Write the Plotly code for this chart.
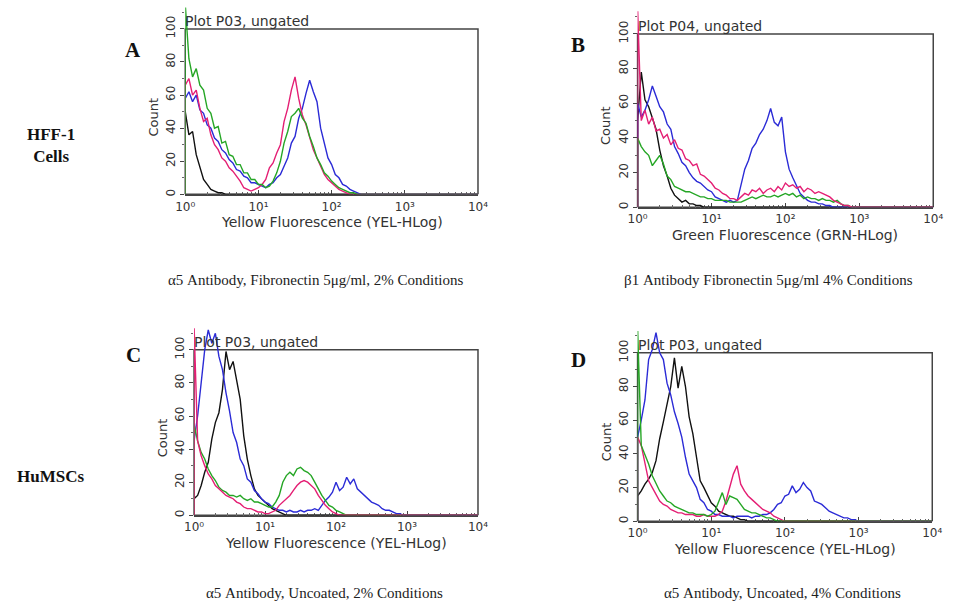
import plotly.graph_objects as go

# ---------------- data ----------------
# histogram channels, log10 of fluorescence (20 channels per decade)
CHANNEL_LOG10 = [0.00, 0.05, 0.10, 0.15, 0.20, 0.25, 0.30, 0.35, 0.40, 0.45,
                 0.50, 0.55, 0.60, 0.65, 0.70, 0.75, 0.80, 0.85, 0.90, 0.95,
                 1.00, 1.05, 1.10, 1.15, 1.20, 1.25, 1.30, 1.35, 1.40, 1.45,
                 1.50, 1.55, 1.60, 1.65, 1.70, 1.75, 1.80, 1.85, 1.90, 1.95,
                 2.00, 2.05, 2.10, 2.15, 2.20, 2.25, 2.30, 2.35, 2.40, 2.45,
                 2.50, 2.55, 2.60, 2.65, 2.70, 2.75, 2.80, 2.85, 2.90, 2.95,
                 3.00, 3.05, 3.10, 3.15, 3.20, 3.25, 3.30, 3.35, 3.40, 3.45,
                 3.50, 3.55, 3.60, 3.65, 3.70, 3.75, 3.80, 3.85, 3.90, 3.95,
                 4.00]

X_TICK_VALUES = [1, 10, 100, 1000, 10000]
X_TICK_LABELS = ["10\u2070", "10\u00b9", "10\u00b2", "10\u00b3", "10\u2074"]
Y_TICK_VALUES = [0, 20, 40, 60, 80, 100]

# Panel A: HFF-1, alpha5, fibronectin, 2%
A_BLACK = [50, 36, 38, 24, 17, 9, 6, 3, 2, 1, 1]
A_BLUE = [58, 62, 56, 60, 51, 49, 42, 40, 34, 32, 27, 25, 21, 19, 15, 14, 11, 10,
          7, 7, 6, 5, 4, 6, 7, 10, 12, 17, 22, 31, 35, 46, 52, 61, 69, 62, 56, 40,
          31, 22, 18, 12, 10, 6, 5, 3, 2, 1]
A_GREEN = [115, 82, 71, 76, 66, 63, 52, 49, 40, 41, 31, 32, 24, 23, 18, 18, 13, 13,
           9, 9, 6, 6, 4, 5, 8, 13, 20, 31, 38, 47, 49, 52, 46, 43, 35, 29, 22, 18,
           13, 11, 8, 6, 4, 3, 2, 1, 1]
A_PINK = [66, 70, 60, 63, 52, 44, 46, 36, 30, 27, 22, 20, 16, 14, 11, 8, 4, 3, 2, 3,
          4, 6, 9, 16, 19, 25, 30, 44, 52, 63, 71, 58, 48, 42, 34, 27, 22, 17, 12, 9,
          7, 5, 3, 2, 1]

# Panel B: HFF-1, beta1, fibronectin, 4%
B_BLACK = [50, 78, 62, 58, 51, 45, 33, 24, 18, 11, 7, 5, 3, 4, 2, 2, 1, 1]
B_BLUE = [60, 52, 56, 62, 70, 64, 58, 55, 48, 45, 35, 31, 26, 24, 20, 17, 15, 14,
          12, 10, 9, 6, 5, 4, 3, 4, 3, 4, 14, 22, 27, 34, 37, 42, 45, 50, 57, 49,
          47, 52, 32, 22, 17, 12, 8, 6, 4, 3, 3, 2, 2, 1, 1]
B_GREEN = [40, 35, 32, 30, 24, 27, 30, 25, 18, 16, 12, 11, 10, 9, 9, 8, 7, 6, 6, 5,
           5, 4, 4, 4, 4, 3, 3, 3, 3, 4, 5, 6, 5, 6, 7, 6, 6, 7, 6, 7, 8, 7, 8, 6,
           7, 5, 6, 5, 5, 4, 5, 4, 4, 3, 4, 2, 1, 1]
B_PINK = [115, 50, 56, 48, 52, 44, 45, 40, 42, 36, 39, 34, 33, 28, 27, 24, 25, 19,
          18, 16, 14, 11, 10, 8, 7, 5, 5, 4, 6, 8, 7, 10, 9, 11, 8, 10, 11, 9, 12,
          10, 14, 12, 13, 11, 12, 9, 11, 10, 8, 9, 8, 7, 6, 4, 3, 2, 1, 1]

# Panel C: HuMSCs, alpha5, uncoated, 2%
C_BLACK = [10, 12, 18, 26, 32, 46, 56, 62, 76, 99, 88, 93, 82, 70, 48, 34, 24, 16,
           12, 10, 8, 6, 4, 3, 2, 1]
C_BLUE = [45, 60, 80, 100, 112, 104, 110, 96, 88, 74, 63, 50, 44, 34, 30, 22, 20,
          15, 13, 10, 8, 7, 5, 4, 3, 3, 2, 3, 2, 2, 3, 2, 3, 3, 4, 3, 6, 9, 11, 14,
          20, 15, 17, 23, 19, 22, 16, 14, 12, 10, 8, 7, 6, 4, 3, 3, 2, 1, 1]
C_GREEN = [55, 45, 38, 34, 28, 24, 21, 17, 15, 14, 12, 12, 11, 12, 10, 9, 10, 8, 8,
           7, 6, 5, 5, 8, 12, 20, 24, 26, 24, 28, 29, 27, 26, 24, 20, 16, 12, 9, 6,
           5, 3, 2, 1]
C_PINK = [115, 45, 36, 30, 25, 22, 18, 16, 14, 12, 11, 10, 8, 7, 5, 4, 4, 3, 2, 2,
          1, 1, 2, 3, 6, 8, 10, 12, 15, 18, 20, 21, 20, 18, 16, 12, 9, 6, 4, 2, 1]

# Panel D: HuMSCs, alpha5, uncoated, 4%
D_BLACK = [15, 18, 22, 25, 29, 36, 49, 59, 70, 80, 97, 79, 92, 80, 62, 52, 38, 24,
           20, 15, 11, 9, 6, 5, 4, 3, 3, 2, 1, 1]
D_BLUE = [50, 60, 72, 96, 102, 112, 100, 96, 82, 75, 65, 58, 50, 38, 28, 24, 20, 13,
          11, 7, 6, 4, 4, 3, 3, 3, 2, 3, 3, 3, 3, 2, 3, 3, 4, 4, 5, 7, 10, 11, 15,
          16, 21, 17, 19, 23, 20, 18, 12, 11, 10, 8, 6, 5, 4, 3, 2, 2, 1, 1]
D_GREEN = [115, 45, 40, 34, 27, 22, 18, 15, 12, 11, 9, 8, 7, 6, 5, 5, 4, 4, 4, 3,
           4, 6, 11, 17, 10, 15, 14, 13, 10, 7, 6, 5, 5, 4, 3, 2, 2, 1]
D_PINK = [50, 45, 34, 24, 20, 16, 12, 10, 9, 7, 6, 5, 5, 4, 4, 4, 3, 3, 4, 3, 3, 3,
          4, 6, 12, 20, 28, 33, 22, 18, 15, 13, 11, 9, 7, 6, 5, 3, 2, 1]

PANEL_LETTERS = ["A", "B", "C", "D"]
PANEL_HEADERS = ["Plot P03, ungated", "Plot P04, ungated",
                 "Plot P03, ungated", "Plot P03, ungated"]
X_TITLES = ["Yellow Fluorescence (YEL-HLog)", "Green Fluorescence (GRN-HLog)",
            "Yellow Fluorescence (YEL-HLog)", "Yellow Fluorescence (YEL-HLog)"]
CAPTIONS = ["\u03b15 Antibody, Fibronectin 5\u03bcg/ml, 2% Conditions",
            "\u03b21 Antibody Fibronectin 5\u03bcg/ml 4% Conditions",
            "\u03b15 Antibody, Uncoated, 2% Conditions",
            "\u03b15 Antibody, Uncoated, 4% Conditions"]
ROW_LABELS = ["HFF-1<br>Cells", "HuMSCs"]

# ---------------- styling / layout ----------------
W, H = 955, 603
COLORS = {"black": "#111111", "blue": "#2b2bd6", "green": "#25a625", "pink": "#e41f74"}
Y_TOP = 113  # visible count range above the 100 frame line

# plot frame pixel boxes: left, right, top (count=100), bottom (count=0)
BOXES = [(179, 478, 29, 195), (641, 943, 34, 208),
         (188, 478, 351, 517), (641, 942, 354, 523)]

SERIES = [
    [("black", A_BLACK), ("blue", A_BLUE), ("pink", A_PINK), ("green", A_GREEN)],
    [("black", B_BLACK), ("blue", B_BLUE), ("green", B_GREEN), ("pink", B_PINK)],
    [("black", C_BLACK), ("blue", C_BLUE), ("green", C_GREEN), ("pink", C_PINK)],
    [("black", D_BLACK), ("blue", D_BLUE), ("pink", D_PINK), ("green", D_GREEN)],
]

channels = [10 ** e for e in CHANNEL_LOG10]


def histogram_path(vals):
    # histogram outline starts from the baseline at the first channel
    counts = list(vals) + [0] * (len(channels) - len(vals))
    return [channels[0]] + channels, [0] + counts


def px(x):
    return x / W


def py(y):
    return 1 - y / H


fig = go.Figure()
layout = dict(width=W, height=H, margin=dict(l=0, r=0, t=0, b=0),
              paper_bgcolor="white", plot_bgcolor="white", showlegend=False,
              font=dict(family="DejaVu Sans", size=12, color="#333"))
shapes, annotations = [], []
axis_font = dict(family="DejaVu Sans", size=12, color="#333")
label_font = dict(family="DejaVu Sans", size=14, color="#333")

for i, (left, right, top, bottom) in enumerate(BOXES):
    n = i + 1
    suffix = "" if n == 1 else str(n)
    xa, ya = f"x{suffix}", f"y{suffix}"
    span = bottom - top
    top_px = top - (Y_TOP - 100) / 100 * span
    for cname, vals in SERIES[i]:
        hx, hy = histogram_path(vals)
        fig.add_trace(go.Scatter(x=hx, y=hy, mode="lines",
                                 line=dict(color=COLORS[cname], width=1.4),
                                 xaxis=xa, yaxis=ya, hoverinfo="skip"))
    layout[f"xaxis{suffix}"] = dict(
        type="log", range=[0, 4], domain=[px(left), px(right)], anchor=ya,
        tickvals=X_TICK_VALUES, ticktext=X_TICK_LABELS, ticks="inside",
        ticklen=5, tickcolor="#444", tickfont=axis_font,
        minor=dict(ticks="inside", ticklen=3, tickcolor="#666", dtick="D1"),
        showline=True, linecolor="#444", linewidth=1.5, showgrid=False,
        zeroline=False, layer="below traces")
    layout[f"yaxis{suffix}"] = dict(
        range=[0, Y_TOP], domain=[py(bottom), py(top_px)], anchor=xa,
        tickvals=Y_TICK_VALUES, tickangle=-90, ticks="outside", ticklen=4,
        tickcolor="#444", tickfont=axis_font,
        minor=dict(ticks="outside", ticklen=2, tickcolor="#666", dtick=10),
        showline=False, showgrid=False, zeroline=False, layer="below traces")
    shapes.append(dict(type="rect", xref=f"{xa} domain", yref=ya, x0=0, x1=1,
                       y0=0, y1=100, line=dict(color="#444", width=1.5),
                       layer="below"))
    cx = (left + right) / 2
    annotations += [
        dict(text=PANEL_HEADERS[i], x=px(left - 2), y=py(top - 8), xref="paper",
             yref="paper", xanchor="left", yanchor="middle", showarrow=False,
             font=label_font),
        dict(text=X_TITLES[i], x=px(cx), y=py(bottom + 28), xref="paper",
             yref="paper", xanchor="center", yanchor="middle", showarrow=False,
             font=label_font),
        dict(text="Count", x=px(left - 32), y=py(top + span * 0.53), xref="paper",
             yref="paper", xanchor="center", yanchor="middle", showarrow=False,
             textangle=-90, font=dict(family="DejaVu Sans", size=13, color="#333")),
    ]

letter_pos = [(126, 50), (580, 45), (126, 356), (581, 361)]
for (lx, ly), letter in zip(letter_pos, PANEL_LETTERS):
    annotations.append(dict(text=f"<b>{letter}</b>", x=px(lx), y=py(ly),
                            xref="paper", yref="paper", showarrow=False,
                            xanchor="center", yanchor="middle",
                            font=dict(family="Liberation Serif", size=21,
                                      color="#111")))

caption_pos = [(313, 281), (775, 281), (321, 595), (789, 595)]
for (cxp, cyp), cap in zip(caption_pos, CAPTIONS):
    annotations.append(dict(text=cap, x=px(cxp), y=py(cyp), xref="paper",
                            yref="paper", showarrow=False, xanchor="center",
                            yanchor="middle",
                            font=dict(family="Liberation Serif", size=15,
                                      color="#222")))

row_pos = [(42, 146), (41, 478)]
for (rx, ry), lab in zip(row_pos, ROW_LABELS):
    annotations.append(dict(text=f"<b>{lab}</b>", x=px(rx), y=py(ry), xref="paper",
                            yref="paper", showarrow=False, xanchor="center",
                            yanchor="middle",
                            font=dict(family="Liberation Serif", size=17,
                                      color="#111")))

layout["shapes"] = shapes
layout["annotations"] = annotations
fig.update_layout(**layout)
fig.write_html("out.html",
               config={"displayModeBar": False},
               post_script="document.body.style.margin='0px';"
                           "document.body.style.overflow='hidden';")
